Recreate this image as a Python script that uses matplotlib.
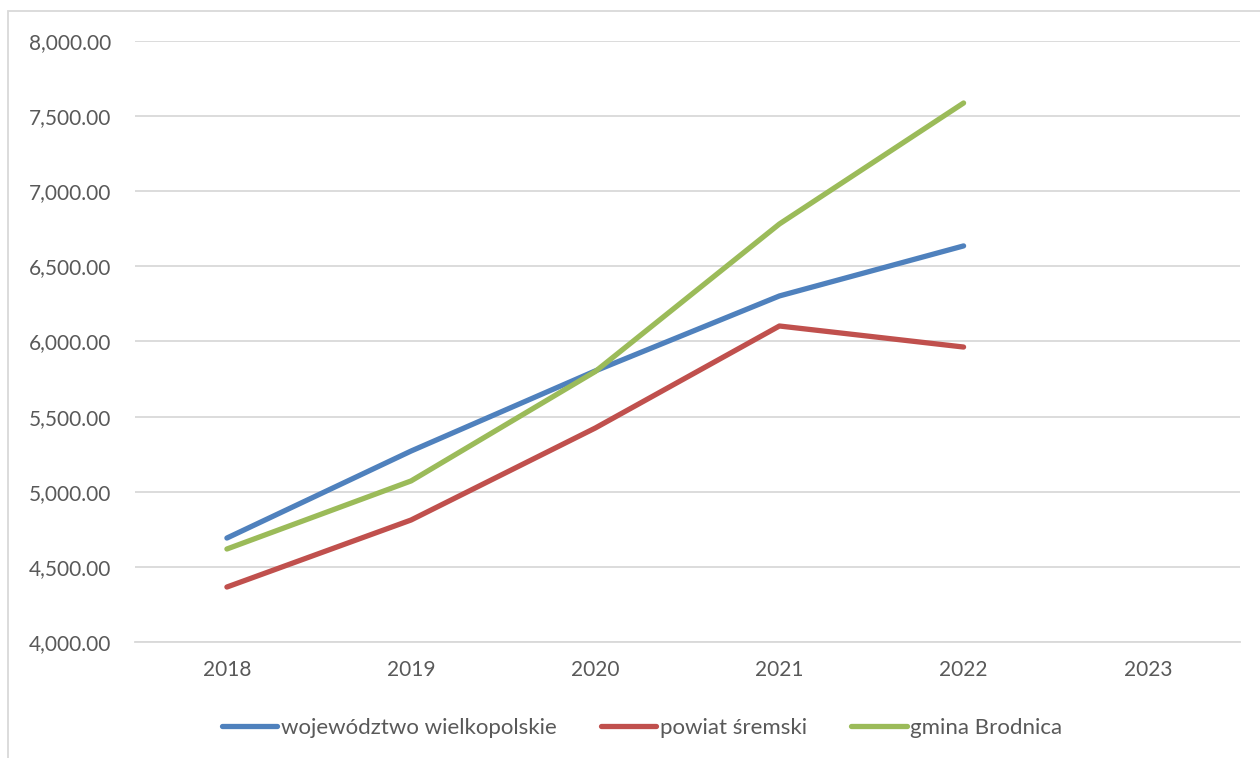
import matplotlib.pyplot as plt
from matplotlib.patches import Rectangle
from matplotlib.ticker import FuncFormatter

# data
years = ['2018', '2019', '2020', '2021', '2022', '2023']
wielkopolskie = [4692, 5271, 5804, 6303, 6636]
sremski = [4366, 4812, 5424, 6103, 5963]
brodnica = [4619, 5072, 5800, 6782, 7587]
labels = ['województwo wielkopolskie', 'powiat śremski', 'gmina Brodnica']
colors = ['#4F81BD', '#C0504D', '#9BBB59']

plt.rcParams['font.family'] = ['Lato', 'DejaVu Sans']
grey = '#595959'

fig = plt.figure(figsize=(12.6, 7.58), dpi=100)
ax = fig.add_axes([0.107, 0.153, 0.877, 0.793])

x = list(range(len(years)))
for y, label, c in zip([wielkopolskie, sremski, brodnica], labels, colors):
    ax.plot(x[:len(y)], y, color=c, lw=3.8, label=label, solid_capstyle='round')

ax.set_xlim(-0.5, len(years) - 0.5)
ax.set_ylim(4000, 8000)
ax.set_yticks(range(4000, 8001, 500))
ax.yaxis.set_major_formatter(FuncFormatter(lambda v, p: f'{v:,.2f}'))
ax.set_xticks(x)
ax.set_xticklabels(years)
ax.grid(axis='y', color='#D9D9D9', lw=1.3)
ax.set_axisbelow(True)
for s in ['top', 'right', 'left']:
    ax.spines[s].set_visible(False)
ax.spines['bottom'].set_color('#D9D9D9')
ax.spines['bottom'].set_linewidth(1.3)
ax.tick_params(axis='both', length=0, labelsize=15, labelcolor=grey)
ax.tick_params(axis='y', pad=17)
ax.tick_params(axis='x', pad=13)

fig.legend(loc='center', bbox_to_anchor=(0.5095, 0.04), ncol=3, frameon=False,
           fontsize=16, labelcolor=grey, handlelength=2.5, handletextpad=0.15,
           columnspacing=2.0)

# chart area border (cropped at right and bottom)
fig.patches.append(Rectangle((8 / 1260, -0.1), 1.2, 1 - 11 / 758 + 0.1,
                             transform=fig.transFigure, fill=False,
                             edgecolor='#D9D9D9', lw=1.3))

fig.savefig('out.png', dpi=100)
